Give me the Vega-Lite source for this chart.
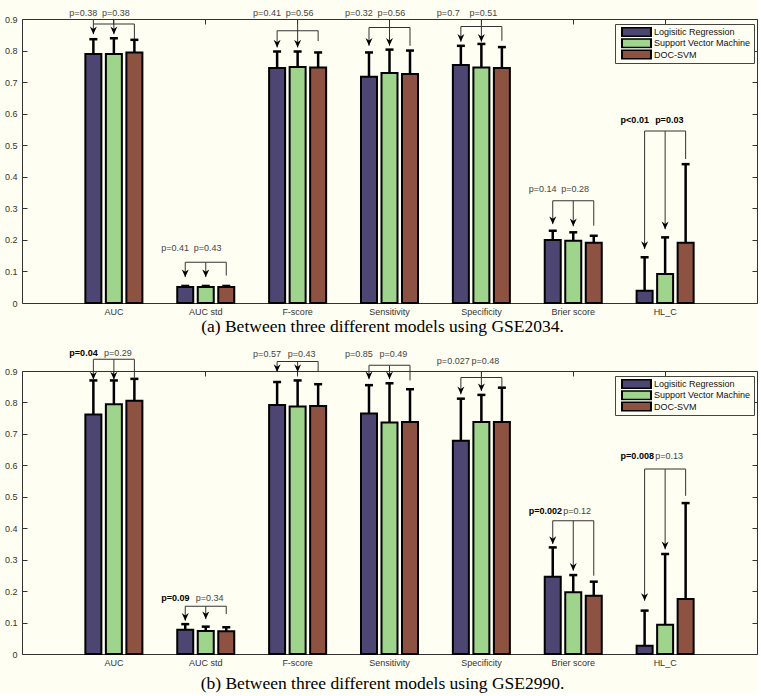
{
  "$schema": "https://vega.github.io/schema/vega-lite/v6.json",
  "padding": {"left": 3, "top": 8, "right": 0, "bottom": 0},
  "background": "#FEFEF2",
  "datasets": {
    "bars": [
      {"panel": "a", "metric": "AUC", "model": "Logisitic Regression", "value": 0.789, "upper": 0.836},
      {"panel": "a", "metric": "AUC", "model": "Support Vector Machine", "value": 0.789, "upper": 0.839},
      {"panel": "a", "metric": "AUC", "model": "DOC-SVM", "value": 0.794, "upper": 0.834},
      {"panel": "a", "metric": "AUC std", "model": "Logisitic Regression", "value": 0.051, "upper": 0.054},
      {"panel": "a", "metric": "AUC std", "model": "Support Vector Machine", "value": 0.051, "upper": 0.054},
      {"panel": "a", "metric": "AUC std", "model": "DOC-SVM", "value": 0.051, "upper": 0.054},
      {"panel": "a", "metric": "F-score", "model": "Logisitic Regression", "value": 0.745, "upper": 0.797},
      {"panel": "a", "metric": "F-score", "model": "Support Vector Machine", "value": 0.748, "upper": 0.797},
      {"panel": "a", "metric": "F-score", "model": "DOC-SVM", "value": 0.746, "upper": 0.794},
      {"panel": "a", "metric": "Sensitivity", "model": "Logisitic Regression", "value": 0.717, "upper": 0.794},
      {"panel": "a", "metric": "Sensitivity", "model": "Support Vector Machine", "value": 0.729, "upper": 0.803},
      {"panel": "a", "metric": "Sensitivity", "model": "DOC-SVM", "value": 0.726, "upper": 0.8},
      {"panel": "a", "metric": "Specificity", "model": "Logisitic Regression", "value": 0.754, "upper": 0.815},
      {"panel": "a", "metric": "Specificity", "model": "Support Vector Machine", "value": 0.746, "upper": 0.821},
      {"panel": "a", "metric": "Specificity", "model": "DOC-SVM", "value": 0.745, "upper": 0.811},
      {"panel": "a", "metric": "Brier score", "model": "Logisitic Regression", "value": 0.2, "upper": 0.229},
      {"panel": "a", "metric": "Brier score", "model": "Support Vector Machine", "value": 0.197, "upper": 0.224},
      {"panel": "a", "metric": "Brier score", "model": "DOC-SVM", "value": 0.191, "upper": 0.213},
      {"panel": "a", "metric": "HL_C", "model": "Logisitic Regression", "value": 0.039, "upper": 0.145},
      {"panel": "a", "metric": "HL_C", "model": "Support Vector Machine", "value": 0.092, "upper": 0.208},
      {"panel": "a", "metric": "HL_C", "model": "DOC-SVM", "value": 0.191, "upper": 0.44},
      {"panel": "b", "metric": "AUC", "model": "Logisitic Regression", "value": 0.762, "upper": 0.87},
      {"panel": "b", "metric": "AUC", "model": "Support Vector Machine", "value": 0.794, "upper": 0.87},
      {"panel": "b", "metric": "AUC", "model": "DOC-SVM", "value": 0.805, "upper": 0.875},
      {"panel": "b", "metric": "AUC std", "model": "Logisitic Regression", "value": 0.077, "upper": 0.095},
      {"panel": "b", "metric": "AUC std", "model": "Support Vector Machine", "value": 0.073, "upper": 0.087},
      {"panel": "b", "metric": "AUC std", "model": "DOC-SVM", "value": 0.072, "upper": 0.085},
      {"panel": "b", "metric": "F-score", "model": "Logisitic Regression", "value": 0.792, "upper": 0.865},
      {"panel": "b", "metric": "F-score", "model": "Support Vector Machine", "value": 0.787, "upper": 0.87},
      {"panel": "b", "metric": "F-score", "model": "DOC-SVM", "value": 0.789, "upper": 0.858},
      {"panel": "b", "metric": "Sensitivity", "model": "Logisitic Regression", "value": 0.765, "upper": 0.855},
      {"panel": "b", "metric": "Sensitivity", "model": "Support Vector Machine", "value": 0.736, "upper": 0.861},
      {"panel": "b", "metric": "Sensitivity", "model": "DOC-SVM", "value": 0.738, "upper": 0.842},
      {"panel": "b", "metric": "Specificity", "model": "Logisitic Regression", "value": 0.678, "upper": 0.812},
      {"panel": "b", "metric": "Specificity", "model": "Support Vector Machine", "value": 0.738, "upper": 0.824},
      {"panel": "b", "metric": "Specificity", "model": "DOC-SVM", "value": 0.738, "upper": 0.847},
      {"panel": "b", "metric": "Brier score", "model": "Logisitic Regression", "value": 0.246, "upper": 0.339},
      {"panel": "b", "metric": "Brier score", "model": "Support Vector Machine", "value": 0.196, "upper": 0.251},
      {"panel": "b", "metric": "Brier score", "model": "DOC-SVM", "value": 0.185, "upper": 0.23},
      {"panel": "b", "metric": "HL_C", "model": "Logisitic Regression", "value": 0.026, "upper": 0.138},
      {"panel": "b", "metric": "HL_C", "model": "Support Vector Machine", "value": 0.093, "upper": 0.318},
      {"panel": "b", "metric": "HL_C", "model": "DOC-SVM", "value": 0.175, "upper": 0.48}
    ],
    "leads": [
      {"panel": "a", "metric": "AUC", "model": "Logisitic Regression", "from": 0.9, "to": 0.852},
      {"panel": "a", "metric": "AUC", "model": "Support Vector Machine", "from": 0.9, "to": 0.852},
      {"panel": "a", "metric": "AUC", "model": "DOC-SVM", "from": 0.884, "to": 0.836},
      {"panel": "a", "metric": "AUC std", "model": "Logisitic Regression", "from": 0.129, "to": 0.082},
      {"panel": "a", "metric": "AUC std", "model": "Support Vector Machine", "from": 0.129, "to": 0.082},
      {"panel": "a", "metric": "AUC std", "model": "DOC-SVM", "from": 0.129, "to": 0.087},
      {"panel": "a", "metric": "F-score", "model": "Logisitic Regression", "from": 0.863, "to": 0.81},
      {"panel": "a", "metric": "F-score", "model": "Support Vector Machine", "from": 0.9, "to": 0.81},
      {"panel": "a", "metric": "F-score", "model": "DOC-SVM", "from": 0.863, "to": 0.83},
      {"panel": "a", "metric": "Sensitivity", "model": "Logisitic Regression", "from": 0.873, "to": 0.815},
      {"panel": "a", "metric": "Sensitivity", "model": "Support Vector Machine", "from": 0.9, "to": 0.815},
      {"panel": "a", "metric": "Sensitivity", "model": "DOC-SVM", "from": 0.873, "to": 0.815},
      {"panel": "a", "metric": "Specificity", "model": "Logisitic Regression", "from": 0.876, "to": 0.828},
      {"panel": "a", "metric": "Specificity", "model": "Support Vector Machine", "from": 0.9, "to": 0.828},
      {"panel": "a", "metric": "Specificity", "model": "DOC-SVM", "from": 0.876, "to": 0.831},
      {"panel": "a", "metric": "Brier score", "model": "Logisitic Regression", "from": 0.324, "to": 0.25},
      {"panel": "a", "metric": "Brier score", "model": "Support Vector Machine", "from": 0.324, "to": 0.243},
      {"panel": "a", "metric": "Brier score", "model": "DOC-SVM", "from": 0.324, "to": 0.245},
      {"panel": "a", "metric": "HL_C", "model": "Logisitic Regression", "from": 0.545, "to": 0.171},
      {"panel": "a", "metric": "HL_C", "model": "Support Vector Machine", "from": 0.545, "to": 0.234},
      {"panel": "a", "metric": "HL_C", "model": "DOC-SVM", "from": 0.545, "to": 0.456},
      {"panel": "b", "metric": "AUC", "model": "Logisitic Regression", "from": 0.937, "to": 0.873},
      {"panel": "b", "metric": "AUC", "model": "Support Vector Machine", "from": 0.937, "to": 0.873},
      {"panel": "b", "metric": "AUC", "model": "DOC-SVM", "from": 0.937, "to": 0.875},
      {"panel": "b", "metric": "AUC std", "model": "Logisitic Regression", "from": 0.152, "to": 0.106},
      {"panel": "b", "metric": "AUC std", "model": "Support Vector Machine", "from": 0.152, "to": 0.111},
      {"panel": "b", "metric": "AUC std", "model": "DOC-SVM", "from": 0.152, "to": 0.127},
      {"panel": "b", "metric": "F-score", "model": "Logisitic Regression", "from": 0.93, "to": 0.897},
      {"panel": "b", "metric": "F-score", "model": "Support Vector Machine", "from": 0.93, "to": 0.897},
      {"panel": "b", "metric": "F-score", "model": "DOC-SVM", "from": 0.93, "to": 0.9},
      {"panel": "b", "metric": "Sensitivity", "model": "Logisitic Regression", "from": 0.918, "to": 0.874},
      {"panel": "b", "metric": "Sensitivity", "model": "Support Vector Machine", "from": 0.918, "to": 0.874},
      {"panel": "b", "metric": "Sensitivity", "model": "DOC-SVM", "from": 0.918, "to": 0.87},
      {"panel": "b", "metric": "Specificity", "model": "Logisitic Regression", "from": 0.879, "to": 0.826},
      {"panel": "b", "metric": "Specificity", "model": "Support Vector Machine", "from": 0.9, "to": 0.836},
      {"panel": "b", "metric": "Specificity", "model": "DOC-SVM", "from": 0.879, "to": 0.847},
      {"panel": "b", "metric": "Brier score", "model": "Logisitic Regression", "from": 0.424, "to": 0.35},
      {"panel": "b", "metric": "Brier score", "model": "Support Vector Machine", "from": 0.424, "to": 0.265},
      {"panel": "b", "metric": "Brier score", "model": "DOC-SVM", "from": 0.424, "to": 0.249},
      {"panel": "b", "metric": "HL_C", "model": "Logisitic Regression", "from": 0.588, "to": 0.169},
      {"panel": "b", "metric": "HL_C", "model": "Support Vector Machine", "from": 0.588, "to": 0.333},
      {"panel": "b", "metric": "HL_C", "model": "DOC-SVM", "from": 0.588, "to": 0.503}
    ],
    "arrows": [
      {"panel": "a", "metric": "AUC", "model": "Logisitic Regression", "tip": 0.852},
      {"panel": "a", "metric": "AUC", "model": "Support Vector Machine", "tip": 0.852},
      {"panel": "a", "metric": "AUC std", "model": "Logisitic Regression", "tip": 0.082},
      {"panel": "a", "metric": "AUC std", "model": "Support Vector Machine", "tip": 0.082},
      {"panel": "a", "metric": "F-score", "model": "Logisitic Regression", "tip": 0.81},
      {"panel": "a", "metric": "F-score", "model": "Support Vector Machine", "tip": 0.81},
      {"panel": "a", "metric": "Sensitivity", "model": "Logisitic Regression", "tip": 0.815},
      {"panel": "a", "metric": "Sensitivity", "model": "Support Vector Machine", "tip": 0.815},
      {"panel": "a", "metric": "Specificity", "model": "Logisitic Regression", "tip": 0.828},
      {"panel": "a", "metric": "Specificity", "model": "Support Vector Machine", "tip": 0.828},
      {"panel": "a", "metric": "Brier score", "model": "Logisitic Regression", "tip": 0.25},
      {"panel": "a", "metric": "Brier score", "model": "Support Vector Machine", "tip": 0.243},
      {"panel": "a", "metric": "HL_C", "model": "Logisitic Regression", "tip": 0.171},
      {"panel": "a", "metric": "HL_C", "model": "Support Vector Machine", "tip": 0.234},
      {"panel": "b", "metric": "AUC", "model": "Logisitic Regression", "tip": 0.873},
      {"panel": "b", "metric": "AUC", "model": "Support Vector Machine", "tip": 0.873},
      {"panel": "b", "metric": "AUC std", "model": "Logisitic Regression", "tip": 0.106},
      {"panel": "b", "metric": "AUC std", "model": "Support Vector Machine", "tip": 0.111},
      {"panel": "b", "metric": "F-score", "model": "Logisitic Regression", "tip": 0.897},
      {"panel": "b", "metric": "F-score", "model": "Support Vector Machine", "tip": 0.897},
      {"panel": "b", "metric": "Sensitivity", "model": "Logisitic Regression", "tip": 0.874},
      {"panel": "b", "metric": "Sensitivity", "model": "Support Vector Machine", "tip": 0.874},
      {"panel": "b", "metric": "Specificity", "model": "Logisitic Regression", "tip": 0.826},
      {"panel": "b", "metric": "Specificity", "model": "Support Vector Machine", "tip": 0.836},
      {"panel": "b", "metric": "Brier score", "model": "Logisitic Regression", "tip": 0.35},
      {"panel": "b", "metric": "Brier score", "model": "Support Vector Machine", "tip": 0.265},
      {"panel": "b", "metric": "HL_C", "model": "Logisitic Regression", "tip": 0.169},
      {"panel": "b", "metric": "HL_C", "model": "Support Vector Machine", "tip": 0.333}
    ],
    "brackets": [
      {"panel": "a", "metric": "AUC", "level": 0.884},
      {"panel": "a", "metric": "AUC std", "level": 0.129},
      {"panel": "a", "metric": "F-score", "level": 0.863},
      {"panel": "a", "metric": "Sensitivity", "level": 0.873},
      {"panel": "a", "metric": "Specificity", "level": 0.876},
      {"panel": "a", "metric": "Brier score", "level": 0.324},
      {"panel": "a", "metric": "HL_C", "level": 0.545},
      {"panel": "b", "metric": "AUC", "level": 0.937},
      {"panel": "b", "metric": "AUC std", "level": 0.152},
      {"panel": "b", "metric": "F-score", "level": 0.93},
      {"panel": "b", "metric": "Sensitivity", "level": 0.918},
      {"panel": "b", "metric": "Specificity", "level": 0.879},
      {"panel": "b", "metric": "Brier score", "level": 0.424},
      {"panel": "b", "metric": "HL_C", "level": 0.588}
    ],
    "pvals": [
      {"panel": "a", "metric": "AUC", "model": "Logisitic Regression", "label": "p=0.38", "level": 0.91, "sig": false},
      {"panel": "a", "metric": "AUC", "model": "Support Vector Machine", "label": "p=0.38", "level": 0.91, "sig": false},
      {"panel": "a", "metric": "AUC std", "model": "Logisitic Regression", "label": "p=0.41", "level": 0.166, "sig": false},
      {"panel": "a", "metric": "AUC std", "model": "Support Vector Machine", "label": "p=0.43", "level": 0.166, "sig": false},
      {"panel": "a", "metric": "F-score", "model": "Logisitic Regression", "label": "p=0.41", "level": 0.91, "sig": false},
      {"panel": "a", "metric": "F-score", "model": "Support Vector Machine", "label": "p=0.56", "level": 0.91, "sig": false},
      {"panel": "a", "metric": "Sensitivity", "model": "Logisitic Regression", "label": "p=0.32", "level": 0.91, "sig": false},
      {"panel": "a", "metric": "Sensitivity", "model": "Support Vector Machine", "label": "p=0.56", "level": 0.91, "sig": false},
      {"panel": "a", "metric": "Specificity", "model": "Logisitic Regression", "label": "p=0.7", "level": 0.91, "sig": false},
      {"panel": "a", "metric": "Specificity", "model": "Support Vector Machine", "label": "p=0.51", "level": 0.91, "sig": false},
      {"panel": "a", "metric": "Brier score", "model": "Logisitic Regression", "label": "p=0.14", "level": 0.351, "sig": false},
      {"panel": "a", "metric": "Brier score", "model": "Support Vector Machine", "label": "p=0.28", "level": 0.351, "sig": false},
      {"panel": "a", "metric": "HL_C", "model": "Logisitic Regression", "label": "p<0.01", "level": 0.57, "sig": true},
      {"panel": "a", "metric": "HL_C", "model": "Support Vector Machine", "label": "p=0.03", "level": 0.57, "sig": true},
      {"panel": "b", "metric": "AUC", "model": "Logisitic Regression", "label": "p=0.04", "level": 0.948, "sig": true},
      {"panel": "b", "metric": "AUC", "model": "Support Vector Machine", "label": "p=0.29", "level": 0.948, "sig": false},
      {"panel": "b", "metric": "AUC std", "model": "Logisitic Regression", "label": "p=0.09", "level": 0.169, "sig": true},
      {"panel": "b", "metric": "AUC std", "model": "Support Vector Machine", "label": "p=0.34", "level": 0.169, "sig": false},
      {"panel": "b", "metric": "F-score", "model": "Logisitic Regression", "label": "p=0.57", "level": 0.945, "sig": false},
      {"panel": "b", "metric": "F-score", "model": "Support Vector Machine", "label": "p=0.43", "level": 0.945, "sig": false},
      {"panel": "b", "metric": "Sensitivity", "model": "Logisitic Regression", "label": "p=0.85", "level": 0.943, "sig": false},
      {"panel": "b", "metric": "Sensitivity", "model": "Support Vector Machine", "label": "p=0.49", "level": 0.943, "sig": false},
      {"panel": "b", "metric": "Specificity", "model": "Logisitic Regression", "label": "p=0.027", "level": 0.921, "sig": false},
      {"panel": "b", "metric": "Specificity", "model": "Support Vector Machine", "label": "p=0.48", "level": 0.921, "sig": false},
      {"panel": "b", "metric": "Brier score", "model": "Logisitic Regression", "label": "p=0.002", "level": 0.445, "sig": true},
      {"panel": "b", "metric": "Brier score", "model": "Support Vector Machine", "label": "p=0.12", "level": 0.445, "sig": false},
      {"panel": "b", "metric": "HL_C", "model": "Logisitic Regression", "label": "p=0.008", "level": 0.619, "sig": true},
      {"panel": "b", "metric": "HL_C", "model": "Support Vector Machine", "label": "p=0.13", "level": 0.619, "sig": false}
    ]
  },
  "vconcat": [
    {
      "width": 735,
      "height": 284,
      "title": {"text": "(a) Between three different models using GSE2034.", "orient": "bottom", "anchor": "middle", "font": "Liberation Serif", "fontSize": 17.5, "fontWeight": "normal", "color": "#000", "offset": 2, "dx": -7},
      "resolve": {"axis": {"x": "independent", "y": "independent"}},
      "layer": [
        {
          "data": {"name": "bars"},
          "transform": [{"filter": "datum.panel == 'a'"}],
          "mark": {"type": "bar", "stroke": "#000", "strokeWidth": 2},
          "encoding": {
            "x": {"field": "metric", "type": "nominal", "sort": ["AUC", "AUC std", "F-score", "Sensitivity", "Specificity", "Brier score", "HL_C"], "scale": {"type": "band", "paddingInner": 0, "paddingOuter": 0.5}, "axis": {"orient": "bottom", "title": null, "labelAngle": 0, "ticks": false, "domain": false, "labelFont": "Liberation Sans", "labelFontSize": 9, "labelColor": "#333", "labelPadding": 4}},
            "xOffset": {"field": "model", "type": "nominal", "sort": ["Logisitic Regression", "Support Vector Machine", "DOC-SVM"], "scale": {"paddingInner": 0.22, "paddingOuter": 0.85}},
            "y": {"field": "value", "type": "quantitative", "scale": {"domain": [0, 0.9], "nice": false}, "axis": {"orient": "left", "title": null, "values": [0, 0.1, 0.2, 0.3, 0.4, 0.5, 0.6, 0.7, 0.8, 0.9], "format": ".1~f", "tickSize": -5, "labelPadding": 10, "domain": false, "grid": false, "tickColor": "#333", "labelFont": "Liberation Sans", "labelFontSize": 9, "labelColor": "#333"}},
            "color": {"field": "model", "type": "nominal", "scale": {"domain": ["Logisitic Regression", "Support Vector Machine", "DOC-SVM"], "range": ["#4E4672", "#9FD48C", "#8E5243"]}, "legend": {"orient": "none", "legendX": 593, "legendY": 5, "title": null, "direction": "vertical", "padding": 3, "fillColor": "#FEFEF2", "strokeColor": "#444", "cornerRadius": 0, "symbolType": "M-0.14,-1.29H8.14V1.29H-0.14Z", "symbolSize": 49, "symbolStrokeColor": "#000", "symbolStrokeWidth": 2, "symbolOpacity": 1, "labelFont": "Liberation Sans", "labelFontSize": 9, "labelColor": "#111", "labelOffset": 27, "rowPadding": 1.3, "clipHeight": 10}}
          }
        },
        {
          "data": {"name": "bars"},
          "transform": [{"filter": "datum.panel == 'a'"}],
          "mark": {"type": "rule", "color": "#000", "strokeWidth": 2.5},
          "encoding": {
            "x": {"field": "metric", "type": "nominal", "sort": ["AUC", "AUC std", "F-score", "Sensitivity", "Specificity", "Brier score", "HL_C"], "scale": {"type": "band", "paddingInner": 0, "paddingOuter": 0.5}, "axis": null},
            "xOffset": {"field": "model", "type": "nominal", "sort": ["Logisitic Regression", "Support Vector Machine", "DOC-SVM"], "scale": {"paddingInner": 0.22, "paddingOuter": 0.85}},
            "y": {"field": "value", "type": "quantitative", "scale": {"domain": [0, 0.9], "nice": false}, "axis": null},
            "y2": {"field": "upper"}
          }
        },
        {
          "data": {"name": "bars"},
          "transform": [{"filter": "datum.panel == 'a'"}],
          "mark": {"type": "tick", "orient": "horizontal", "color": "#000", "size": 8, "thickness": 2.5, "opacity": 1},
          "encoding": {
            "x": {"field": "metric", "type": "nominal", "sort": ["AUC", "AUC std", "F-score", "Sensitivity", "Specificity", "Brier score", "HL_C"], "scale": {"type": "band", "paddingInner": 0, "paddingOuter": 0.5}, "axis": null},
            "xOffset": {"field": "model", "type": "nominal", "sort": ["Logisitic Regression", "Support Vector Machine", "DOC-SVM"], "scale": {"paddingInner": 0.22, "paddingOuter": 0.85}},
            "y": {"field": "upper", "type": "quantitative", "scale": {"domain": [0, 0.9], "nice": false}, "axis": null}
          }
        },
        {
          "data": {"name": "leads"},
          "transform": [{"filter": "datum.panel == 'a'"}],
          "mark": {"type": "rule", "color": "#333", "strokeWidth": 1},
          "encoding": {
            "x": {"field": "metric", "type": "nominal", "sort": ["AUC", "AUC std", "F-score", "Sensitivity", "Specificity", "Brier score", "HL_C"], "scale": {"type": "band", "paddingInner": 0, "paddingOuter": 0.5}, "axis": null},
            "xOffset": {"field": "model", "type": "nominal", "sort": ["Logisitic Regression", "Support Vector Machine", "DOC-SVM"], "scale": {"paddingInner": 0.22, "paddingOuter": 0.85}},
            "y": {"field": "from", "type": "quantitative", "scale": {"domain": [0, 0.9], "nice": false}, "axis": {"orient": "right", "title": null, "labels": false, "domain": false, "grid": false, "tickSize": -5, "tickColor": "#333", "values": [0, 0.1, 0.2, 0.3, 0.4, 0.5, 0.6, 0.7, 0.8, 0.9]}},
            "y2": {"field": "to"}
          }
        },
        {
          "data": {"name": "brackets"},
          "transform": [{"filter": "datum.panel == 'a'"}],
          "mark": {"type": "tick", "orient": "horizontal", "color": "#333", "size": 41, "thickness": 1, "opacity": 1},
          "encoding": {
            "x": {"field": "metric", "type": "nominal", "sort": ["AUC", "AUC std", "F-score", "Sensitivity", "Specificity", "Brier score", "HL_C"], "scale": {"type": "band", "paddingInner": 0, "paddingOuter": 0.5}, "axis": {"orient": "top", "title": null, "labels": false, "domain": false, "grid": false, "tickSize": -5, "tickColor": "#333"}},
            "y": {"field": "level", "type": "quantitative", "scale": {"domain": [0, 0.9], "nice": false}, "axis": null}
          }
        },
        {
          "data": {"name": "arrows"},
          "transform": [{"filter": "datum.panel == 'a'"}],
          "mark": {"type": "point", "shape": "M0,0L-1,-2.2L0,-1.5L1,-2.2Z", "filled": true, "color": "#000", "size": 49, "opacity": 1},
          "encoding": {
            "x": {"field": "metric", "type": "nominal", "sort": ["AUC", "AUC std", "F-score", "Sensitivity", "Specificity", "Brier score", "HL_C"], "scale": {"type": "band", "paddingInner": 0, "paddingOuter": 0.5}, "axis": null},
            "xOffset": {"field": "model", "type": "nominal", "sort": ["Logisitic Regression", "Support Vector Machine", "DOC-SVM"], "scale": {"paddingInner": 0.22, "paddingOuter": 0.85}},
            "y": {"field": "tip", "type": "quantitative", "scale": {"domain": [0, 0.9], "nice": false}, "axis": null}
          }
        },
        {
          "data": {"name": "pvals"},
          "transform": [{"filter": "datum.panel == 'a' && datum.model == 'Logisitic Regression' && !datum.sig"}],
          "mark": {"type": "text", "align": "left", "baseline": "alphabetic", "dx": -24, "font": "Liberation Sans", "fontSize": 9, "color": "#444"},
          "encoding": {
            "x": {"field": "metric", "type": "nominal", "sort": ["AUC", "AUC std", "F-score", "Sensitivity", "Specificity", "Brier score", "HL_C"], "scale": {"type": "band", "paddingInner": 0, "paddingOuter": 0.5}, "axis": null},
            "xOffset": {"field": "model", "type": "nominal", "sort": ["Logisitic Regression", "Support Vector Machine", "DOC-SVM"], "scale": {"paddingInner": 0.22, "paddingOuter": 0.85}},
            "y": {"field": "level", "type": "quantitative", "scale": {"domain": [0, 0.9], "nice": false}, "axis": null},
            "text": {"field": "label"}
          }
        },
        {
          "data": {"name": "pvals"},
          "transform": [{"filter": "datum.panel == 'a' && datum.model == 'Logisitic Regression' && datum.sig"}],
          "mark": {"type": "text", "align": "left", "baseline": "alphabetic", "dx": -24, "font": "Liberation Sans", "fontSize": 9, "fontWeight": "bold", "color": "#000"},
          "encoding": {
            "x": {"field": "metric", "type": "nominal", "sort": ["AUC", "AUC std", "F-score", "Sensitivity", "Specificity", "Brier score", "HL_C"], "scale": {"type": "band", "paddingInner": 0, "paddingOuter": 0.5}, "axis": null},
            "xOffset": {"field": "model", "type": "nominal", "sort": ["Logisitic Regression", "Support Vector Machine", "DOC-SVM"], "scale": {"paddingInner": 0.22, "paddingOuter": 0.85}},
            "y": {"field": "level", "type": "quantitative", "scale": {"domain": [0, 0.9], "nice": false}, "axis": null},
            "text": {"field": "label"}
          }
        },
        {
          "data": {"name": "pvals"},
          "transform": [{"filter": "datum.panel == 'a' && datum.model == 'Support Vector Machine' && !datum.sig"}],
          "mark": {"type": "text", "align": "left", "baseline": "alphabetic", "dx": -12, "font": "Liberation Sans", "fontSize": 9, "color": "#444"},
          "encoding": {
            "x": {"field": "metric", "type": "nominal", "sort": ["AUC", "AUC std", "F-score", "Sensitivity", "Specificity", "Brier score", "HL_C"], "scale": {"type": "band", "paddingInner": 0, "paddingOuter": 0.5}, "axis": null},
            "xOffset": {"field": "model", "type": "nominal", "sort": ["Logisitic Regression", "Support Vector Machine", "DOC-SVM"], "scale": {"paddingInner": 0.22, "paddingOuter": 0.85}},
            "y": {"field": "level", "type": "quantitative", "scale": {"domain": [0, 0.9], "nice": false}, "axis": null},
            "text": {"field": "label"}
          }
        },
        {
          "data": {"name": "pvals"},
          "transform": [{"filter": "datum.panel == 'a' && datum.model == 'Support Vector Machine' && datum.sig"}],
          "mark": {"type": "text", "align": "left", "baseline": "alphabetic", "dx": -10, "font": "Liberation Sans", "fontSize": 9, "fontWeight": "bold", "color": "#000"},
          "encoding": {
            "x": {"field": "metric", "type": "nominal", "sort": ["AUC", "AUC std", "F-score", "Sensitivity", "Specificity", "Brier score", "HL_C"], "scale": {"type": "band", "paddingInner": 0, "paddingOuter": 0.5}, "axis": null},
            "xOffset": {"field": "model", "type": "nominal", "sort": ["Logisitic Regression", "Support Vector Machine", "DOC-SVM"], "scale": {"paddingInner": 0.22, "paddingOuter": 0.85}},
            "y": {"field": "level", "type": "quantitative", "scale": {"domain": [0, 0.9], "nice": false}, "axis": null},
            "text": {"field": "label"}
          }
        }
      ]
    },
    {
      "width": 735,
      "height": 283,
      "title": {"text": "(b) Between three different models using GSE2990.", "orient": "bottom", "anchor": "middle", "font": "Liberation Serif", "fontSize": 17.5, "fontWeight": "normal", "color": "#000", "offset": 8, "dx": -7},
      "resolve": {"axis": {"x": "independent", "y": "independent"}},
      "layer": [
        {
          "data": {"name": "bars"},
          "transform": [{"filter": "datum.panel == 'b'"}],
          "mark": {"type": "bar", "stroke": "#000", "strokeWidth": 2},
          "encoding": {
            "x": {"field": "metric", "type": "nominal", "sort": ["AUC", "AUC std", "F-score", "Sensitivity", "Specificity", "Brier score", "HL_C"], "scale": {"type": "band", "paddingInner": 0, "paddingOuter": 0.5}, "axis": {"orient": "bottom", "title": null, "labelAngle": 0, "ticks": false, "domain": false, "labelFont": "Liberation Sans", "labelFontSize": 9, "labelColor": "#333", "labelPadding": 4}},
            "xOffset": {"field": "model", "type": "nominal", "sort": ["Logisitic Regression", "Support Vector Machine", "DOC-SVM"], "scale": {"paddingInner": 0.22, "paddingOuter": 0.85}},
            "y": {"field": "value", "type": "quantitative", "scale": {"domain": [0, 0.9], "nice": false}, "axis": {"orient": "left", "title": null, "values": [0, 0.1, 0.2, 0.3, 0.4, 0.5, 0.6, 0.7, 0.8, 0.9], "format": ".1~f", "tickSize": -5, "labelPadding": 10, "domain": false, "grid": false, "tickColor": "#333", "labelFont": "Liberation Sans", "labelFontSize": 9, "labelColor": "#333"}},
            "color": {"field": "model", "type": "nominal", "scale": {"domain": ["Logisitic Regression", "Support Vector Machine", "DOC-SVM"], "range": ["#4E4672", "#9FD48C", "#8E5243"]}, "legend": {"orient": "none", "legendX": 593, "legendY": 5, "title": null, "direction": "vertical", "padding": 3, "fillColor": "#FEFEF2", "strokeColor": "#444", "cornerRadius": 0, "symbolType": "M-0.14,-1.29H8.14V1.29H-0.14Z", "symbolSize": 49, "symbolStrokeColor": "#000", "symbolStrokeWidth": 2, "symbolOpacity": 1, "labelFont": "Liberation Sans", "labelFontSize": 9, "labelColor": "#111", "labelOffset": 27, "rowPadding": 1.3, "clipHeight": 10}}
          }
        },
        {
          "data": {"name": "bars"},
          "transform": [{"filter": "datum.panel == 'b'"}],
          "mark": {"type": "rule", "color": "#000", "strokeWidth": 2.5},
          "encoding": {
            "x": {"field": "metric", "type": "nominal", "sort": ["AUC", "AUC std", "F-score", "Sensitivity", "Specificity", "Brier score", "HL_C"], "scale": {"type": "band", "paddingInner": 0, "paddingOuter": 0.5}, "axis": null},
            "xOffset": {"field": "model", "type": "nominal", "sort": ["Logisitic Regression", "Support Vector Machine", "DOC-SVM"], "scale": {"paddingInner": 0.22, "paddingOuter": 0.85}},
            "y": {"field": "value", "type": "quantitative", "scale": {"domain": [0, 0.9], "nice": false}, "axis": null},
            "y2": {"field": "upper"}
          }
        },
        {
          "data": {"name": "bars"},
          "transform": [{"filter": "datum.panel == 'b'"}],
          "mark": {"type": "tick", "orient": "horizontal", "color": "#000", "size": 8, "thickness": 2.5, "opacity": 1},
          "encoding": {
            "x": {"field": "metric", "type": "nominal", "sort": ["AUC", "AUC std", "F-score", "Sensitivity", "Specificity", "Brier score", "HL_C"], "scale": {"type": "band", "paddingInner": 0, "paddingOuter": 0.5}, "axis": null},
            "xOffset": {"field": "model", "type": "nominal", "sort": ["Logisitic Regression", "Support Vector Machine", "DOC-SVM"], "scale": {"paddingInner": 0.22, "paddingOuter": 0.85}},
            "y": {"field": "upper", "type": "quantitative", "scale": {"domain": [0, 0.9], "nice": false}, "axis": null}
          }
        },
        {
          "data": {"name": "leads"},
          "transform": [{"filter": "datum.panel == 'b'"}],
          "mark": {"type": "rule", "color": "#333", "strokeWidth": 1},
          "encoding": {
            "x": {"field": "metric", "type": "nominal", "sort": ["AUC", "AUC std", "F-score", "Sensitivity", "Specificity", "Brier score", "HL_C"], "scale": {"type": "band", "paddingInner": 0, "paddingOuter": 0.5}, "axis": null},
            "xOffset": {"field": "model", "type": "nominal", "sort": ["Logisitic Regression", "Support Vector Machine", "DOC-SVM"], "scale": {"paddingInner": 0.22, "paddingOuter": 0.85}},
            "y": {"field": "from", "type": "quantitative", "scale": {"domain": [0, 0.9], "nice": false}, "axis": {"orient": "right", "title": null, "labels": false, "domain": false, "grid": false, "tickSize": -5, "tickColor": "#333", "values": [0, 0.1, 0.2, 0.3, 0.4, 0.5, 0.6, 0.7, 0.8, 0.9]}},
            "y2": {"field": "to"}
          }
        },
        {
          "data": {"name": "brackets"},
          "transform": [{"filter": "datum.panel == 'b'"}],
          "mark": {"type": "tick", "orient": "horizontal", "color": "#333", "size": 41, "thickness": 1, "opacity": 1},
          "encoding": {
            "x": {"field": "metric", "type": "nominal", "sort": ["AUC", "AUC std", "F-score", "Sensitivity", "Specificity", "Brier score", "HL_C"], "scale": {"type": "band", "paddingInner": 0, "paddingOuter": 0.5}, "axis": {"orient": "top", "title": null, "labels": false, "domain": false, "grid": false, "tickSize": -5, "tickColor": "#333"}},
            "y": {"field": "level", "type": "quantitative", "scale": {"domain": [0, 0.9], "nice": false}, "axis": null}
          }
        },
        {
          "data": {"name": "arrows"},
          "transform": [{"filter": "datum.panel == 'b'"}],
          "mark": {"type": "point", "shape": "M0,0L-1,-2.2L0,-1.5L1,-2.2Z", "filled": true, "color": "#000", "size": 49, "opacity": 1},
          "encoding": {
            "x": {"field": "metric", "type": "nominal", "sort": ["AUC", "AUC std", "F-score", "Sensitivity", "Specificity", "Brier score", "HL_C"], "scale": {"type": "band", "paddingInner": 0, "paddingOuter": 0.5}, "axis": null},
            "xOffset": {"field": "model", "type": "nominal", "sort": ["Logisitic Regression", "Support Vector Machine", "DOC-SVM"], "scale": {"paddingInner": 0.22, "paddingOuter": 0.85}},
            "y": {"field": "tip", "type": "quantitative", "scale": {"domain": [0, 0.9], "nice": false}, "axis": null}
          }
        },
        {
          "data": {"name": "pvals"},
          "transform": [{"filter": "datum.panel == 'b' && datum.model == 'Logisitic Regression' && !datum.sig"}],
          "mark": {"type": "text", "align": "left", "baseline": "alphabetic", "dx": -24, "font": "Liberation Sans", "fontSize": 9, "color": "#444"},
          "encoding": {
            "x": {"field": "metric", "type": "nominal", "sort": ["AUC", "AUC std", "F-score", "Sensitivity", "Specificity", "Brier score", "HL_C"], "scale": {"type": "band", "paddingInner": 0, "paddingOuter": 0.5}, "axis": null},
            "xOffset": {"field": "model", "type": "nominal", "sort": ["Logisitic Regression", "Support Vector Machine", "DOC-SVM"], "scale": {"paddingInner": 0.22, "paddingOuter": 0.85}},
            "y": {"field": "level", "type": "quantitative", "scale": {"domain": [0, 0.9], "nice": false}, "axis": null},
            "text": {"field": "label"}
          }
        },
        {
          "data": {"name": "pvals"},
          "transform": [{"filter": "datum.panel == 'b' && datum.model == 'Logisitic Regression' && datum.sig"}],
          "mark": {"type": "text", "align": "left", "baseline": "alphabetic", "dx": -24, "font": "Liberation Sans", "fontSize": 9, "fontWeight": "bold", "color": "#000"},
          "encoding": {
            "x": {"field": "metric", "type": "nominal", "sort": ["AUC", "AUC std", "F-score", "Sensitivity", "Specificity", "Brier score", "HL_C"], "scale": {"type": "band", "paddingInner": 0, "paddingOuter": 0.5}, "axis": null},
            "xOffset": {"field": "model", "type": "nominal", "sort": ["Logisitic Regression", "Support Vector Machine", "DOC-SVM"], "scale": {"paddingInner": 0.22, "paddingOuter": 0.85}},
            "y": {"field": "level", "type": "quantitative", "scale": {"domain": [0, 0.9], "nice": false}, "axis": null},
            "text": {"field": "label"}
          }
        },
        {
          "data": {"name": "pvals"},
          "transform": [{"filter": "datum.panel == 'b' && datum.model == 'Support Vector Machine' && !datum.sig"}],
          "mark": {"type": "text", "align": "left", "baseline": "alphabetic", "dx": -10, "font": "Liberation Sans", "fontSize": 9, "color": "#444"},
          "encoding": {
            "x": {"field": "metric", "type": "nominal", "sort": ["AUC", "AUC std", "F-score", "Sensitivity", "Specificity", "Brier score", "HL_C"], "scale": {"type": "band", "paddingInner": 0, "paddingOuter": 0.5}, "axis": null},
            "xOffset": {"field": "model", "type": "nominal", "sort": ["Logisitic Regression", "Support Vector Machine", "DOC-SVM"], "scale": {"paddingInner": 0.22, "paddingOuter": 0.85}},
            "y": {"field": "level", "type": "quantitative", "scale": {"domain": [0, 0.9], "nice": false}, "axis": null},
            "text": {"field": "label"}
          }
        },
        {
          "data": {"name": "pvals"},
          "transform": [{"filter": "datum.panel == 'b' && datum.model == 'Support Vector Machine' && datum.sig"}],
          "mark": {"type": "text", "align": "left", "baseline": "alphabetic", "dx": -10, "font": "Liberation Sans", "fontSize": 9, "fontWeight": "bold", "color": "#000"},
          "encoding": {
            "x": {"field": "metric", "type": "nominal", "sort": ["AUC", "AUC std", "F-score", "Sensitivity", "Specificity", "Brier score", "HL_C"], "scale": {"type": "band", "paddingInner": 0, "paddingOuter": 0.5}, "axis": null},
            "xOffset": {"field": "model", "type": "nominal", "sort": ["Logisitic Regression", "Support Vector Machine", "DOC-SVM"], "scale": {"paddingInner": 0.22, "paddingOuter": 0.85}},
            "y": {"field": "level", "type": "quantitative", "scale": {"domain": [0, 0.9], "nice": false}, "axis": null},
            "text": {"field": "label"}
          }
        }
      ]
    }
  ],
  "spacing": 68,
  "bounds": "flush",
  "resolve": {"scale": {"x": "independent", "y": "independent", "xOffset": "independent", "color": "independent"}, "legend": {"color": "independent"}},
  "config": {
    "font": "Liberation Sans",
    "view": {"stroke": "#333", "strokeWidth": 1, "fill": "#FEFEF2"},
    "legend": {"strokeWidth": 1}
  }
}
